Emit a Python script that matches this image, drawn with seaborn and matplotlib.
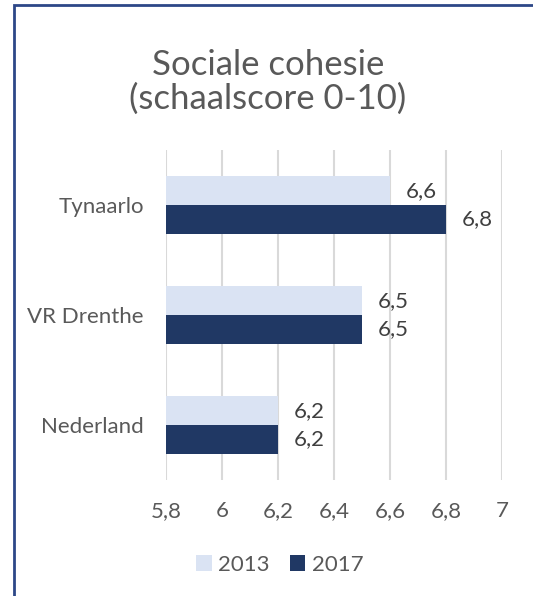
import pandas as pd
import matplotlib.pyplot as plt
import seaborn as sns
from matplotlib.patches import Rectangle
from matplotlib.ticker import FuncFormatter, MultipleLocator

# Data
categories = ["Tynaarlo", "VR Drenthe", "Nederland"]
years = ["2013", "2017"]
values_2013 = [6.6, 6.5, 6.2]
values_2017 = [6.8, 6.5, 6.2]

df = pd.DataFrame({
    "gebied": categories * 2,
    "jaar": [years[0]] * 3 + [years[1]] * 3,
    "score": values_2013 + values_2017,
})

sns.set_style("white")
plt.rcParams['font.family'] = ['Lato', 'DejaVu Sans']

grey = "#595959"
colors = {"2013": "#dae3f3", "2017": "#203864"}
fs = 16

fig = plt.figure(figsize=(5.33, 5.96), dpi=100)
ax = fig.add_axes([166 / 533, 1 - 480 / 596, 336 / 533, 330 / 596])

sns.barplot(data=df, y="gebied", x="score", hue="jaar", palette=colors,
            orient="h", width=0.52, ax=ax, edgecolor="none", saturation=1)

ax.set_xlim(5.8, 7.0)
ax.set_ylim(2.5, -0.5)
ax.xaxis.set_major_locator(MultipleLocator(0.2))
ax.xaxis.set_major_formatter(FuncFormatter(lambda v, p: f"{v:.1f}".rstrip("0").rstrip(".").replace(".", ",")))
ax.grid(axis="x", color="#d9d9d9", linewidth=1.5)
ax.set_axisbelow(True)
sns.despine(ax=ax, left=True, bottom=True)
ax.tick_params(axis="both", length=0, labelsize=fs, labelcolor=grey)
ax.tick_params(axis="y", pad=16)
ax.tick_params(axis="x", pad=15)
ax.set_xlabel("")
ax.set_ylabel("")

# data labels
for cont in ax.containers:
    ax.bar_label(cont, labels=[f"{w:.1f}".replace(".", ",") for w in cont.datavalues],
                 padding=11, fontsize=fs, color="#404040")

# legend
handles, labels = ax.get_legend_handles_labels()
ax.legend(handles, labels, loc="center", bbox_to_anchor=(280 / 533, 1 - 565 / 596),
          bbox_transform=fig.transFigure, ncol=2, frameon=False, fontsize=fs,
          labelcolor=grey, handlelength=0.7, handleheight=0.7,
          handletextpad=0.3, columnspacing=0.9)

# title
fig.text(268 / 533, 1 - 82 / 596, "Sociale cohesie\n(schaalscore 0-10)",
         ha="center", va="center", fontsize=25, color=grey, linespacing=1.05)

# chart border (right and bottom fall outside the picture)
fig.patches.append(Rectangle((14 / 533, -0.1), 1.2, 1.1 - 5 / 596,
                             transform=fig.transFigure, fill=False,
                             edgecolor="#2d4787", linewidth=2, clip_on=False))

fig.savefig("out.png", dpi=100)
